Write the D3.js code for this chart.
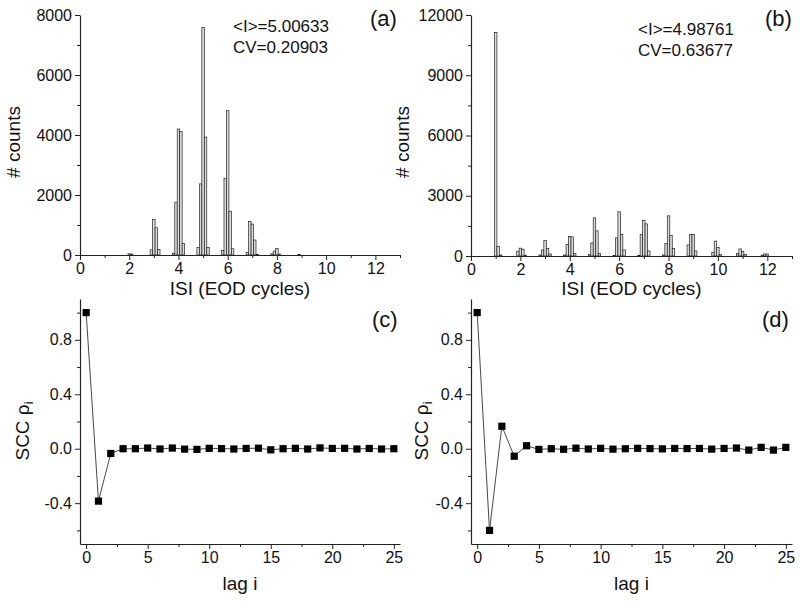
<!DOCTYPE html>
<html><head><meta charset="utf-8">
<script src="https://cdn.jsdelivr.net/npm/d3@7"></script>
<style>
body{margin:0;background:#fff;}
svg text{font-family:"Liberation Sans",Arial,Helvetica,sans-serif;fill:#111;}
</style></head>
<body><svg id="c" width="800" height="603"></svg>
<script>
// ---- data ----
const isiA = [2.0,2.1, 2.9,3.0,3.1,3.2, 3.8,3.9,4.0,4.1,4.2, 4.8,4.9,5.0,5.1,5.2, 5.8,5.9,6.0,6.1,6.2, 6.8,6.9,7.0,7.1,7.2, 7.8,7.9,8.0,8.1, 8.9];
const countsA = [40,30, 170,1190,910,180, 60,1760,4200,4120,380, 250,2370,7580,3930,250, 150,2560,4810,1460,210, 80,1120,1030,500,20, 40,130,220,30, 20];
const isiB = [1.0,1.1,1.2, 1.9,2.0,2.1,2.2, 2.8,2.9,3.0,3.1,3.2, 3.8,3.9,4.0,4.1,4.2, 4.8,4.9,5.0,5.1,5.2, 5.8,5.9,6.0,6.1,6.2, 6.8,6.9,7.0,7.1,7.2, 7.8,7.9,8.0,8.1,8.2, 8.8,8.9,9.0,9.1, 9.8,9.9,10.0,10.1, 10.8,10.9,11.0,11.1, 11.8,11.9,12.0];
const countsB = [11130,480,50, 240,390,340,40, 50,300,780,380,100, 50,580,980,950,130, 80,650,1900,1250,130, 30,900,2200,1080,300, 30,1080,1780,1600,250, 50,630,2000,1030,380, 550,1070,1070,250, 180,740,430,80, 130,350,220,80, 40,100,100];
const lags = d3.range(0, 26);
const sccC = [1.0,-0.385,-0.035,0.0,0.0,0.005,-0.002,0.005,-0.003,-0.005,0.003,0.001,-0.002,0.002,0.004,-0.008,0.0,0.003,-0.002,0.006,0.002,0.003,-0.002,0.002,-0.002,0.0];
const sccD = [1.0,-0.6,0.165,-0.055,0.022,-0.005,0.0,-0.004,0.004,-0.002,0.003,-0.003,0.0,0.003,0.001,-0.001,0.002,0.001,0.002,-0.003,0.002,0.005,-0.01,0.01,-0.01,0.01];
const histXMajor = [0,2,4,6,8,10,12];
const histXMinor = [1,3,5,7,9,11,13];
const yTicksA = [0,2000,4000,6000,8000], yMinorA = [1000,3000,5000,7000];
const yTicksB = [0,3000,6000,9000,12000], yMinorB = [1500,4500,7500,10500];
const lagMajor = [0,5,10,15,20,25], lagMinor = [2.5,7.5,12.5,17.5,22.5];
const sccMajor = [-0.4,0.0,0.4,0.8], sccMinor = [-0.6,-0.2,0.2,0.6,1.0];
const statsA = ["<I>=5.00633","CV=0.20903"];
const statsB = ["<I>=4.98761","CV=0.63677"];

const svg = d3.select("#c");
const axisColor = "#222";

function styleAxis(g){
  g.selectAll("path").attr("stroke", axisColor).attr("stroke-width", 1.2);
  g.selectAll("line").attr("stroke", axisColor).attr("stroke-width", 1);
  g.selectAll("text").attr("font-size", 16).attr("fill", "#111")
   .attr("font-family", '"Liberation Sans",Arial,sans-serif');
}

function drawAxes(x, y, xMaj, xMin, yMaj, yMin, xfmt, yfmt, yBase){
  const gx = svg.append("g").attr("transform", `translate(0,${yBase})`)
    .call(d3.axisBottom(x).tickValues(xMaj).tickSize(5).tickSizeOuter(0).tickPadding(3).tickFormat(xfmt));
  styleAxis(gx);
  const gx2 = svg.append("g").attr("transform", `translate(0,${yBase})`)
    .call(d3.axisBottom(x).tickValues(xMin).tickSize(3).tickSizeOuter(0).tickFormat(""));
  styleAxis(gx2); gx2.select("path").remove();
  const x0 = x.range()[0];
  const gy = svg.append("g").attr("transform", `translate(${x0},0)`)
    .call(d3.axisLeft(y).tickValues(yMaj).tickSize(5).tickSizeOuter(0).tickPadding(3).tickFormat(yfmt));
  styleAxis(gy);
  const gy2 = svg.append("g").attr("transform", `translate(${x0},0)`)
    .call(d3.axisLeft(y).tickValues(yMin).tickSize(3).tickSizeOuter(0).tickFormat(""));
  styleAxis(gy2); gy2.select("path").remove();
}

function histPanel(isi, counts, xr, yr, ymax, yMaj, yMin, stats, label, labelX, statX, ylabX){
  const x = d3.scaleLinear().domain([0,13]).range(xr);
  const y = d3.scaleLinear().domain([0,ymax]).range(yr);
  svg.append("g").selectAll("rect").data(isi.map((v,i)=>({v, c:counts[i]}))).join("rect")
    .attr("x", d => x(d.v - 0.05))
    .attr("width", d => x(d.v + 0.05) - x(d.v - 0.05))
    .attr("y", d => y(d.c))
    .attr("height", d => y(0) - y(d.c))
    .attr("fill", "#dcdcdc").attr("stroke", "#222").attr("stroke-width", 0.7);
  drawAxes(x, y, histXMajor, histXMinor, yMaj, yMin, d3.format("d"), d3.format("d"), yr[0]);
  svg.append("text").attr("x", (xr[0]+xr[1])/2).attr("y", 295).attr("text-anchor","middle")
    .attr("font-size", 19).text("ISI (EOD cycles)");
  svg.append("text").attr("transform", `translate(${ylabX},142) rotate(-90)`).attr("text-anchor","middle")
    .attr("font-size", 19).text("# counts");
  svg.append("text").attr("x", labelX).attr("y", 26).attr("font-size", 22).text(label);
  stats.forEach((s,i)=> svg.append("text").attr("x", statX).attr("y", (label==="(a)"?32:35)+i*21)
    .attr("font-size", 17).text(s));
}

function sccPanel(vals, xr, label, labelX, ylabX){
  const x = d3.scaleLinear().domain([-0.5,25.5]).range(xr);
  const y = d3.scaleLinear().domain([-0.7,1.1]).range([544,299]);
  drawAxes(x, y, lagMajor, lagMinor, sccMajor, sccMinor, d3.format("d"), d => d.toFixed(1), 544);
  const line = d3.line().x((d,i)=>x(lags[i])).y(d=>y(d));
  svg.append("path").datum(vals).attr("d", line).attr("fill","none")
    .attr("stroke","#333").attr("stroke-width",0.9);
  svg.append("g").selectAll("rect").data(vals).join("rect")
    .attr("x", (d,i)=>x(lags[i])-3.6).attr("y", d=>y(d)-3.6)
    .attr("width",7.2).attr("height",7.2).attr("fill","#000");
  svg.append("text").attr("x",(xr[0]+xr[1])/2).attr("y",590).attr("text-anchor","middle")
    .attr("font-size",19).text("lag i");
  const t = svg.append("text").attr("transform",`translate(${ylabX},431) rotate(-90)`)
    .attr("text-anchor","middle").attr("font-size",19);
  t.append("tspan").text("SCC ρ");
  t.append("tspan").attr("dy",4).attr("font-size",13).text("i");
  svg.append("text").attr("x",labelX).attr("y",327).attr("font-size",22).text(label);
}

histPanel(isiA, countsA, [80,400], [255,15], 8000, yTicksA, yMinorA, statsA, "(a)", 370, 233, 20);
histPanel(isiB, countsB, [471,792], [256,15], 12000, yTicksB, yMinorB, statsB, "(b)", 765, 638, 409);
sccPanel(sccC, [80,400], "(c)", 372, 29);
sccPanel(sccD, [471,792], "(d)", 762, 428);
</script></body></html>
